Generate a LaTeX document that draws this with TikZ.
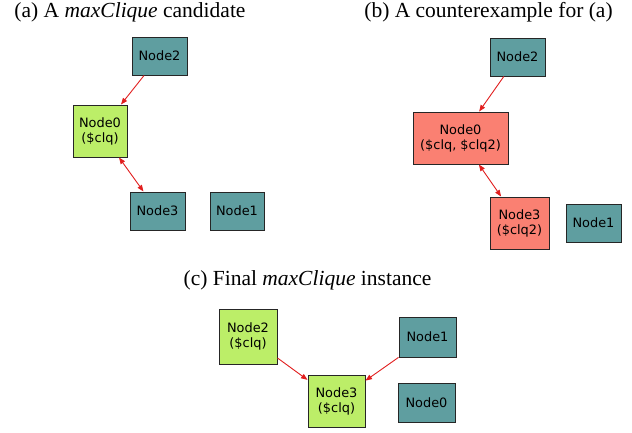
\documentclass[tikz,border=0pt]{standalone}
\usepackage{fontspec}
\setmainfont{Liberation Serif}
\newfontfamily\nodefont{DejaVu Sans}
\usetikzlibrary{arrows.meta}
\definecolor{cadet}{RGB}{95,158,160}
\definecolor{olive2}{RGB}{188,238,104}
\definecolor{salm}{RGB}{250,128,114}
\definecolor{edgered}{RGB}{225,30,30}
\tikzset{
  box/.style={draw=black!85, line width=1pt, rectangle, inner sep=0pt, align=center,
    font=\nodefont\fontsize{12.9}{15}\selectfont},
  tealbox/.style={box, fill=cadet},
  greenbox/.style={box, fill=olive2},
  salmonbox/.style={box, fill=salm},
  captext/.style={anchor=base, inner sep=0pt, font=\fontsize{21.5}{24}\selectfont},
  edge/.style={draw=edgered, line width=0.9pt, -{Triangle[length=6.5pt,width=5pt]}},
  biedge/.style={draw=edgered, line width=0.9pt, {Triangle[length=6.5pt,width=5pt]}-{Triangle[length=6.5pt,width=5pt]}}
}
\begin{document}
\begin{tikzpicture}[x=1pt,y=-1pt]
\useasboundingbox (0,0) rectangle (632,432);
% captions
\node[captext] (capa) at (130,17.5) {(a) A \textit{maxClique} candidate};
\node[captext] (capb) at (488.5,17.5) {(b) A counterexample for (a)};
\node[captext] (capc) at (307.5,285) {(c) Final \textit{maxClique} instance};
% panel (a)
\node[tealbox, minimum width=55pt, minimum height=38pt] (a2) at (159.5,56) {Node2};
\node[greenbox, minimum width=54pt, minimum height=52pt] (a0) at (100,131) {Node0\\(\$clq)};
\node[tealbox, minimum width=55pt, minimum height=38pt] (a3) at (157.5,211) {Node3};
\node[tealbox, minimum width=54pt, minimum height=38pt] (a1) at (237,211) {Node1};
\draw[edge] (a2) -- (a0);
\draw[biedge] (a0) -- (a3);
% panel (b)
\node[tealbox, minimum width=55pt, minimum height=38pt] (b2) at (517.5,57) {Node2};
\node[salmonbox, minimum width=95pt, minimum height=52pt] (b0) at (460.5,138) {Node0\\(\$clq, \$clq2)};
\node[salmonbox, minimum width=59pt, minimum height=52pt] (b3) at (519.5,223) {Node3\\(\$clq2)};
\node[tealbox, minimum width=55pt, minimum height=38pt] (b1) at (593.5,223) {Node1};
\draw[edge] (b2) -- (b0);
\draw[biedge] (b0) -- (b3);
% panel (c)
\node[greenbox, minimum width=58pt, minimum height=55pt] (c2) at (248,336.5) {Node2\\(\$clq)};
\node[tealbox, minimum width=57pt, minimum height=40pt] (c1) at (427.5,337) {Node1};
\node[greenbox, minimum width=57pt, minimum height=52pt] (c3) at (336.5,401) {Node3\\(\$clq)};
\node[tealbox, minimum width=57pt, minimum height=39pt] (c0) at (426.5,402.5) {Node0};
\draw[edge] (c2) -- (c3);
\draw[edge] (c1) -- (c3);
\end{tikzpicture}
\end{document}
